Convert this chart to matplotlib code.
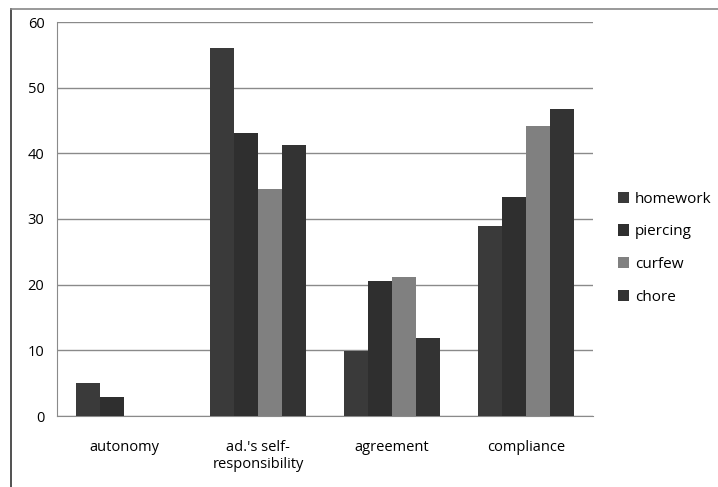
import matplotlib.pyplot as plt
from matplotlib.lines import Line2D
import numpy as np

categories = ["autonomy", "ad.'s self-\nresponsibility", "agreement", "compliance"]
series = ["homework", "piercing", "curfew", "chore"]
homework = [5.1, 56.0, 9.9, 28.9]
piercing = [2.9, 43.1, 20.5, 33.3]
curfew = [0, 34.6, 21.1, 44.1]
chore = [0, 41.2, 11.9, 46.7]
colors = ["#3a3a3a", "#2f2f2f", "#808080", "#333333"]

plt.rcParams['font.family'] = ['Open Sans', 'DejaVu Sans']

fig = plt.figure(figsize=(7.18, 4.87), dpi=100)
ax = fig.add_axes([57/718, 1 - 416/487, (593-57)/718, (416-22)/487])

x = np.arange(len(categories))
w = 0.18
for i, (vals, name) in enumerate(zip([homework, piercing, curfew, chore], series)):
    ax.bar(x + (i - 1.5) * w, vals, w, color=colors[i], label=name, zorder=3)

ax.set_xlim(-0.5, 3.5)
ax.set_ylim(0, 60)
ax.set_yticks(range(0, 61, 10))
ax.set_xticks(x)
ax.set_xticklabels(categories, fontsize=10.5)
ax.tick_params(axis='both', length=0, labelsize=10.5)
ax.tick_params(axis='x', pad=17)
ax.tick_params(axis='y', pad=9)
ax.grid(axis='y', color='#8a8a8a', linewidth=1, zorder=0)
for s in ['top', 'right']:
    ax.spines[s].set_visible(False)
ax.spines['left'].set_color('#8a8a8a')
ax.spines['bottom'].set_color('#8a8a8a')

ax.legend(loc='center left', bbox_to_anchor=(1.035, 0.426), frameon=False,
          fontsize=11, handlelength=0.75, handleheight=0.75, handletextpad=0.35,
          labelspacing=1.15, borderaxespad=0)

# figure border (left and top)
fig.add_artist(Line2D([11/718, 11/718], [0, 1 - 9/487], transform=fig.transFigure,
                      color='#333333', linewidth=1.2))
fig.add_artist(Line2D([11/718, 1], [1 - 9/487, 1 - 9/487], transform=fig.transFigure,
                      color='#888888', linewidth=1.2))

fig.savefig('out.png', dpi=100)
